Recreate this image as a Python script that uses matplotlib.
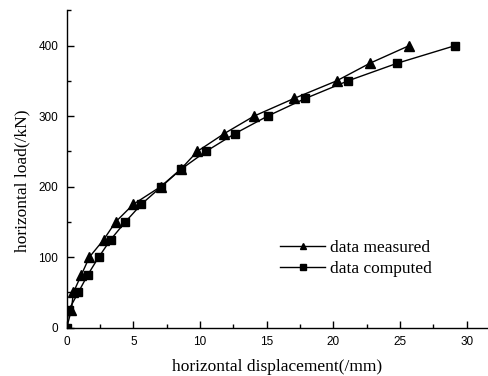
import matplotlib
matplotlib.use("Agg")
import matplotlib.pyplot as plt
from matplotlib.ticker import MultipleLocator

loads = [0, 25, 50, 75, 100, 125, 150, 175, 200, 225, 250, 275, 300, 325, 350, 375, 400]
disp_measured = [0.0, 0.35, 0.5, 1.1, 1.7, 2.78, 3.67, 5.0, 7.05, 8.57, 9.8, 11.8, 14.05, 17.05, 20.25, 22.75, 25.7]
disp_computed = [0.0, 0.15, 0.87, 1.58, 2.4, 3.3, 4.4, 5.6, 7.1, 8.6, 10.45, 12.6, 15.07, 17.9, 21.1, 24.8, 29.15]

fig = plt.figure(figsize=(4.88, 3.76), dpi=100)
ax = fig.add_axes([66.7/488, 1-327.7/376, 1-66.7/488, (327.7-10.3)/376])

ax.plot(disp_measured, loads, '-^', color='black', lw=1.0, ms=7.5, label='data measured')
ax.plot(disp_computed, loads, '-s', color='black', lw=1.0, ms=5.5, label='data computed')

ax.set_xlim(0, 31.6)
ax.set_ylim(0, 450)
ax.xaxis.set_major_locator(MultipleLocator(5))
ax.xaxis.set_minor_locator(MultipleLocator(2.5))
ax.yaxis.set_major_locator(MultipleLocator(100))
ax.yaxis.set_minor_locator(MultipleLocator(50))
ax.spines['top'].set_visible(False)
ax.spines['right'].set_visible(False)
for s in ['left', 'bottom']:
    ax.spines[s].set_linewidth(1.0)
ax.tick_params(which='major', direction='in', length=5, width=1.0, labelsize=8.5, pad=6)
ax.tick_params(which='minor', direction='in', length=3, width=1.0)
for lab in ax.get_xticklabels() + ax.get_yticklabels():
    lab.set_fontfamily('Liberation Sans')

ax.set_xlabel('horizontal displacement(/mm)', fontfamily='Liberation Serif', fontsize=12.5, labelpad=8)
ax.set_ylabel('horizontal load(/kN)', fontfamily='Liberation Serif', fontsize=12.5)
ax.yaxis.set_label_coords(-0.086, 0.462)

leg = ax.legend(loc='upper left', bbox_to_anchor=(0.49, 0.30), frameon=False,
                prop={'family': 'Liberation Serif', 'size': 12.5}, handlelength=2.6,
                handletextpad=0.3, labelspacing=0.3, borderaxespad=0)
for h in leg.legend_handles:
    h.set_markersize(5)

fig.savefig('out.png', dpi=100)
